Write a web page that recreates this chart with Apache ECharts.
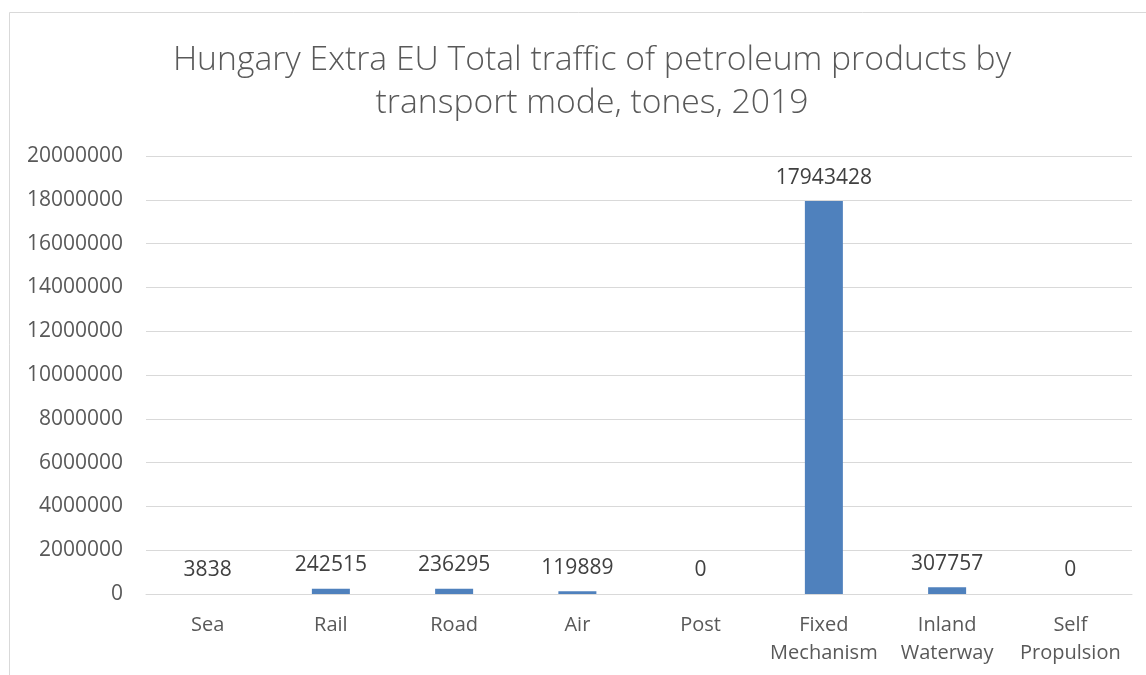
<!DOCTYPE html>
<html><head><meta charset="utf-8">
<script src="https://cdn.jsdelivr.net/npm/echarts@6/dist/echarts.min.js"></script>
<style>html,body{margin:0;padding:0;background:#fff}#c{width:1146px;height:675px}</style>
</head><body><div id="c"></div>
<script>
const titleText = "Hungary Extra EU Total traffic of petroleum products by\ntransport mode, tones, 2019";
const categories = ["Sea", "Rail", "Road", "Air", "Post", "Fixed\nMechanism", "Inland\nWaterway", "Self\nPropulsion"];
const values = [3838, 242515, 236295, 119889, 0, 17943428, 307757, 0];
const yMin = 0, yMax = 20000000, yStep = 2000000;

const chart = echarts.init(document.getElementById('c'));
const font = '"Open Sans", "Noto Sans", sans-serif';
chart.setOption({
  animation: false,
  backgroundColor: '#fff',
  graphic: [{type: 'rect', shape: {x: 9.5, y: 12.5, width: 1300, height: 800}, style: {fill: 'none', stroke: '#d9d9d9', lineWidth: 1}, silent: true}],
  title: {
    text: titleText, left: 587, top: 34, textAlign: 'center',
    textStyle: {fontFamily: font, fontSize: 33.7, fontWeight: 300, color: '#595959', lineHeight: 43}
  },
  grid: {left: 146, right: 14, top: 156, bottom: 81, containLabel: false},
  xAxis: {
    type: 'category', data: categories,
    axisLine: {lineStyle: {color: '#d9d9d9'}}, axisTick: {show: false},
    axisLabel: {fontFamily: font, fontSize: 20, color: '#595959', margin: 17, lineHeight: 28, interval: 0}
  },
  yAxis: {
    type: 'value', min: yMin, max: yMax, interval: yStep,
    axisLine: {show: false}, axisTick: {show: false},
    splitLine: {lineStyle: {color: '#d9d9d9'}},
    axisLabel: {fontFamily: font, fontSize: 21, color: '#595959', margin: 23, formatter: v => String(v)}
  },
  series: [{
    type: 'bar', data: values, barWidth: 38,
    itemStyle: {color: '#4f81bd'},
    label: {show: true, position: 'top', distance: 13, fontFamily: font, fontSize: 21, color: '#404040'}
  }]
});
</script></body></html>
